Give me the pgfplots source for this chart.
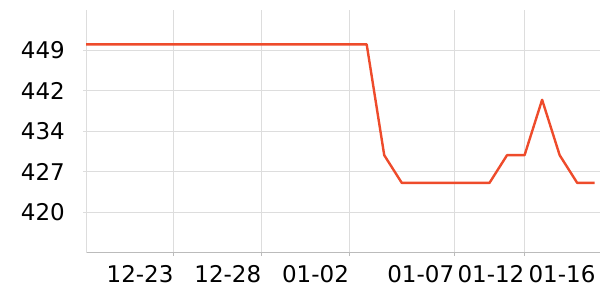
\documentclass[border=0pt]{standalone}
\usepackage{pgfplots}
\pgfplotsset{compat=1.18}
\usepackage{fontspec}
\setmainfont{DejaVu Sans}
\definecolor{linec}{HTML}{EE4B2B}
\definecolor{gridc}{HTML}{DDDDDD}
\definecolor{axisc}{HTML}{BBBBBB}
\begin{document}
\begin{tikzpicture}
\useasboundingbox (0,0) rectangle (600bp,300bp);
\begin{axis}[
  at={(86bp,47.3bp)}, anchor=south west,
  scale only axis, width=514bp, height=242.7bp,
  xmin=0, xmax=29.3, ymin=412.4, ymax=456.2,
  axis x line=bottom, axis y line=left,
  axis line style={-},
  x axis line style={draw=axisc, line width=1bp},
  y axis line style={draw=gridc, line width=0.8bp},
  xtick={5,10,15,21,25},
  xticklabels={12-23,12-28,01-02,01-07,01-12},
  extra x ticks={29.05},
  extra x tick labels={01-16},
  extra x tick style={grid=none, major tick length=0pt, tick label style={yshift=-3bp}},
  ytick={419.7,427.0,434.3,441.6,448.9},
  yticklabels={420,427,434,442,449},
  grid=major,
  major grid style={draw=gridc, line width=0.8bp},
  tick align=outside, major tick length=3bp,
  tick style={draw=gridc, line width=0.8bp},
  x tick style={draw=axisc},
  xtick pos=bottom, ytick pos=left,
  x tick label style={anchor=north east, inner sep=0pt, yshift=-10bp, xshift=0bp, font=\fontsize{23bp}{26bp}\selectfont},
  y tick label style={anchor=east, inner sep=0pt, xshift=-18bp, font=\fontsize{23bp}{26bp}\selectfont},
  clip=false,
]
\addplot[linec, line width=2.4bp, line join=round] coordinates {
(0,450)(1,450)(2,450)(3,450)(4,450)(5,450)(6,450)(7,450)(8,450)(9,450)
(10,450)(11,450)(12,450)(13,450)(14,450)(15,450)(16,450)
(17,430)(18,425)(19,425)(20,425)(21,425)(22,425)(23,425)
(24,430)(25,430)(26,440)(27,430)(28,425)(29,425)
};
\end{axis}
\end{tikzpicture}
\end{document}
